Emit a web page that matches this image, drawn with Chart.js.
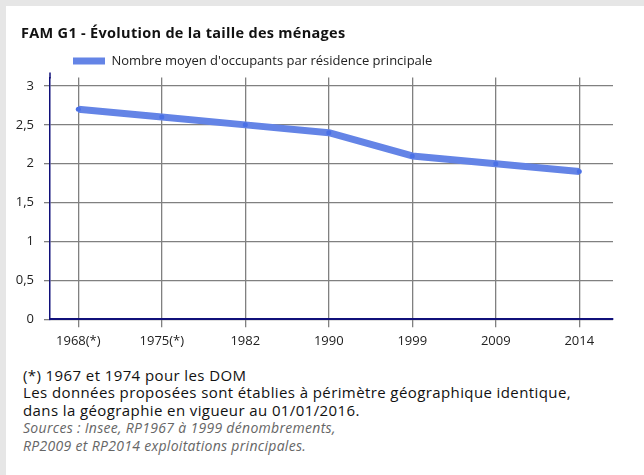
<!DOCTYPE html>
<html lang="fr">
<head>
<meta charset="utf-8">
<script src="https://cdn.jsdelivr.net/npm/chart.js@4/dist/chart.umd.min.js"></script>
<style>
  html, body { margin: 0; padding: 0; width: 644px; height: 475px; overflow: hidden; background: #e6e6e6; font-family: "Open Sans", sans-serif; }
  #panel { position: absolute; left: 6px; top: 6px; width: 638px; height: 469px; background: #fff; }
  #title { position: absolute; left: 15px; top: 17px; font-size: 14.5px; letter-spacing: 0.3px; line-height: 20px; font-weight: bold; color: #111; white-space: nowrap; }
  #wrap { position: absolute; left: 0; top: 0; width: 638px; height: 350px; }
  #notes { position: absolute; left: 17px; top: 361px; font-size: 15px; letter-spacing: 0.4px; line-height: 17.4px; color: #111; white-space: nowrap; }
  #notes .src { font-style: italic; color: #666; font-size: 14px; letter-spacing: 0.3px; }
</style>
</head>
<body>
<div id="panel">
  <div id="wrap"><canvas id="c"></canvas></div>
  <div id="title">FAM G1 - Évolution de la taille des ménages</div>
  <div id="notes">
    <div>(*) 1967 et 1974 pour les DOM</div>
    <div>Les données proposées sont établies à périmètre géographique identique,</div>
    <div>dans la géographie en vigueur au 01/01/2016.</div>
    <div class="src">Sources : Insee, RP1967 à 1999 dénombrements,</div>
    <div class="src">RP2009 et RP2014 exploitations principales.</div>
  </div>
</div>
<script>
const categories = ["1968(*)", "1975(*)", "1982", "1990", "1999", "2009", "2014"];
const seriesName = "Nombre moyen d'occupants par résidence principale";
const occupants = [2.7, 2.6, 2.5, 2.4, 2.1, 2.0, 1.9];
const yTicks = [0, 0.5, 1, 1.5, 2, 2.5, 3];

const lineColor = '#6484e6';
const gridColor = '#808080';
const axisColor = '#10107a';
const fontFamily = '"Open Sans", sans-serif';

const axisExtension = {
  id: 'axisExtension',
  afterDraw(chart) {
    const { ctx, chartArea } = chart;
    ctx.save();
    ctx.strokeStyle = axisColor;
    ctx.lineWidth = 1.5;
    ctx.beginPath();
    ctx.moveTo(chartArea.left, chartArea.top - 5);
    ctx.lineTo(chartArea.left, chartArea.top + 1);
    ctx.stroke();
    ctx.restore();
  }
};

new Chart(document.getElementById('c'), {
  type: 'line',
  data: {
    datasets: [{
      label: seriesName,
      data: occupants.map((v, i) => ({ x: i, y: v })),
      borderColor: lineColor,
      backgroundColor: lineColor,
      borderWidth: 7,
      borderJoinStyle: 'round',
      tension: 0,
      pointRadius: 2.5,
      pointBackgroundColor: '#4a70e6',
      pointBorderWidth: 0,
      fill: false
    }]
  },
  plugins: [axisExtension],
  options: {
    responsive: true,
    maintainAspectRatio: false,
    animation: false,
    layout: { padding: { left: 4, top: -14.5, right: 31, bottom: 0 } },
    plugins: {
      title: { display: false },
      tooltip: { enabled: false },
      legend: {
        display: true,
        position: 'top',
        align: 'start',
        labels: {
          boxWidth: 32,
          boxHeight: 7,
          padding: 63,
          color: '#222',
          font: { family: fontFamily, size: 13 },
          generateLabels(chart) {
            return chart.data.datasets.map((ds, i) => ({
              text: ds.label,
              fillStyle: ds.borderColor,
              strokeStyle: ds.borderColor,
              lineWidth: 0,
              hidden: false,
              datasetIndex: i,
              fontColor: '#222'
            }));
          }
        }
      }
    },
    scales: {
      x: {
        type: 'linear',
        min: -0.339,
        max: 6.404,
        afterBuildTicks(scale) { scale.ticks = categories.map((c, i) => ({ value: i })); },
        afterFit(scale) { scale.height = 36.7; },
        ticks: {
          callback: (v) => categories[v] ?? '',
          color: '#222',
          padding: 6,
          maxRotation: 0,
          autoSkip: false,
          font: { family: fontFamily, size: 13 }
        },
        grid: { color: gridColor, lineWidth: 1.3, tickLength: 8, drawTicks: true },
        border: { display: true, color: axisColor, width: 2 }
      },
      y: {
        type: 'linear',
        min: 0,
        max: 3.109,
        afterBuildTicks(scale) { scale.ticks = yTicks.map(v => ({ value: v })); },
        afterFit(scale) { scale.width = 40; },
        ticks: {
          callback: (v) => String(v).replace('.', ','),
          color: '#222',
          padding: 10,
          includeBounds: false,
          font: { family: fontFamily, size: 13 }
        },
        grid: { color: gridColor, lineWidth: 1.3, tickLength: 6, drawTicks: true },
        border: { display: true, color: axisColor, width: 1.5 }
      }
    }
  }
});
</script>
</body>
</html>
